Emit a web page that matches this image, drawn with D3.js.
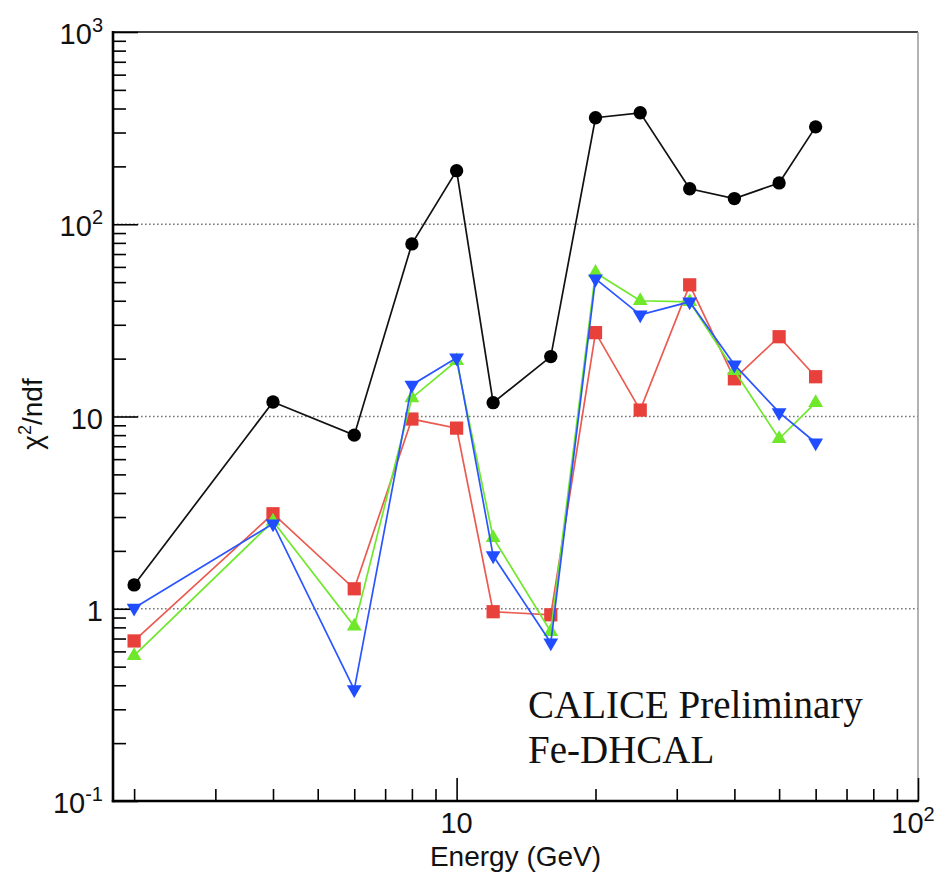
<!DOCTYPE html>
<html>
<head>
<meta charset="utf-8">
<script src="https://cdn.jsdelivr.net/npm/d3@7"></script>
<style>
  html, body { margin: 0; padding: 0; background: #fff; }
  svg { display: block; }
</style>
</head>
<body>
<svg id="chart" width="947" height="872"></svg>
<script>
// ---- data ----
const energies = [2, 4, 6, 8, 10, 12, 16, 20, 25, 32, 40, 50, 60];
const blackCircle = [1.33, 11.9, 8.0, 79, 190, 11.8, 20.5, 358, 380, 153, 136, 164, 321];
const redSquare   = [0.68, 3.12, 1.27, 9.7, 8.7, 0.965, 0.93, 27.3, 10.8, 48.4, 15.7, 26, 16.1];
const greenUp     = [0.57, 2.85, 0.81, 12.5, 19.5, 2.34, 0.76, 56, 40, 39.5, 17.3, 7.66, 11.8];
const blueDown    = [1.01, 2.77, 0.38, 14.6, 20.2, 1.89, 0.665, 52, 33.8, 39.5, 18.6, 10.5, 7.3];
const yTickValues = [0.1, 1, 10, 100, 1000];
const yTickLabels = ["10^-1", "1", "10", "10^2", "10^3"];
const xTickValues = [10, 100];
const xTickLabels = ["10", "10^2"];
const xTitle = "Energy (GeV)";
const annotation = ["CALICE Preliminary", "Fe-DHCAL"];

// ---- layout ----
const L = 113, R = 918, T = 32, B = 801;
const svg = d3.select("#chart");
const x = d3.scaleLog().domain([1.8, 100]).range([L, R]);
const y = d3.scaleLog().domain([0.1, 1000]).range([B, T]);
const sans = "'Liberation Sans', Arial, Helvetica, sans-serif";

// gridlines (dotted) at inner decades
svg.append("g").selectAll("line")
  .data([1, 10, 100]).join("line")
  .attr("x1", L).attr("x2", R)
  .attr("y1", d => y(d)).attr("y2", d => y(d))
  .attr("stroke", "#777").attr("stroke-width", 1.6)
  .attr("stroke-dasharray", "1.6,2.4");

// frame top & right
svg.append("line").attr("x1", L).attr("x2", R).attr("y1", T).attr("y2", T)
  .attr("stroke", "#444").attr("stroke-width", 2);
svg.append("line").attr("x1", R).attr("x2", R).attr("y1", T).attr("y2", B)
  .attr("stroke", "#999").attr("stroke-width", 1.5);

// minor tick values
const yMinor = [];
[0.1, 1, 10, 100].forEach(b => { for (let k = 2; k <= 9; k++) yMinor.push(b * k); });
const xMinor = [2, 3, 4, 5, 6, 7, 8, 9, 20, 30, 40, 50, 60, 70, 80, 90];

function styleAxis(g) {
  g.select(".domain").remove();
  g.selectAll(".tick line").attr("stroke", "#000").attr("stroke-width", 1.6);
  g.selectAll(".tick text").remove();
}

// y axis (ticks inward)
svg.append("g").attr("transform", `translate(${L},0)`)
  .call(d3.axisLeft(y).tickValues(yTickValues).tickSize(-25).tickFormat(""))
  .call(styleAxis);
svg.append("g").attr("transform", `translate(${L},0)`)
  .call(d3.axisLeft(y).tickValues(yMinor).tickSize(-13).tickFormat(""))
  .call(styleAxis);
// x axis (ticks inward)
svg.append("g").attr("transform", `translate(0,${B})`)
  .call(d3.axisBottom(x).tickValues(xTickValues).tickSize(-23).tickFormat(""))
  .call(styleAxis);
svg.append("g").attr("transform", `translate(0,${B})`)
  .call(d3.axisBottom(x).tickValues(xMinor).tickSize(-12).tickFormat(""))
  .call(styleAxis);

// axis lines
svg.append("line").attr("x1", L).attr("x2", L).attr("y1", T - 1).attr("y2", B + 1.2)
  .attr("stroke", "#000").attr("stroke-width", 2.6);
svg.append("line").attr("x1", L - 1.2).attr("x2", R + 0.8).attr("y1", B).attr("y2", B)
  .attr("stroke", "#000").attr("stroke-width", 2.6);

// tick labels with superscripts
function addLabel(g, label) {
  const parts = label.split("^");
  g.append("tspan").text(parts[0]);
  if (parts.length > 1) {
    g.append("tspan").attr("dy", -12).attr("font-size", 20).text(parts[1]);
  }
}
yTickValues.forEach((v, i) => {
  const t = svg.append("text")
    .attr("x", 103).attr("y", y(v) + 12)
    .attr("text-anchor", "end")
    .attr("font-family", sans).attr("font-size", 29).attr("fill", "#111");
  addLabel(t, yTickLabels[i]);
});
xTickValues.forEach((v, i) => {
  const t = svg.append("text")
    .attr("x", x(v) - (i === 1 ? 5 : 0)).attr("y", 833)
    .attr("text-anchor", "middle")
    .attr("font-family", sans).attr("font-size", 29).attr("fill", "#111");
  addLabel(t, xTickLabels[i]);
});

// axis titles
svg.append("text").attr("x", (L + R) / 2).attr("y", 866)
  .attr("text-anchor", "middle").attr("font-family", sans).attr("font-size", 28)
  .attr("fill", "#111").text(xTitle);
const yt = svg.append("text")
  .attr("transform", "translate(42,414) rotate(-90)")
  .attr("text-anchor", "middle").attr("font-family", sans).attr("font-size", 28)
  .attr("fill", "#111");
yt.append("tspan").text("\u03C7");
yt.append("tspan").attr("dy", -11).attr("font-size", 18).text("2");
yt.append("tspan").attr("dy", 11).text("/ndf");

// series
const series = [
  { vals: blackCircle, color: "#000000", line: "#111111", sym: d3.symbolCircle, size: 140, rot: 0 },
  { vals: redSquare,   color: "#e8403a", line: "#ea5a50", sym: d3.symbolSquare, size: 175, rot: 0 },
  { vals: greenUp,     color: "#6fe82c", line: "#6fe82c", sym: d3.symbolTriangle, size: 95, rot: 0 },
  { vals: blueDown,    color: "#1f4dff", line: "#2a55ff", sym: d3.symbolTriangle, size: 95, rot: 180 }
];
const lineGen = d3.line().x(d => x(d[0])).y(d => y(d[1]));
series.forEach(s => {
  const pts = energies.map((e, i) => [e, s.vals[i]]);
  svg.append("path").datum(pts).attr("d", lineGen)
    .attr("fill", "none").attr("stroke", s.line).attr("stroke-width", 1.7);
  svg.append("g").selectAll("path").data(pts).join("path")
    .attr("d", d3.symbol().type(s.sym).size(s.size))
    .attr("transform", d => `translate(${x(d[0])},${y(d[1])}) rotate(${s.rot})`)
    .attr("fill", s.color);
});

// annotation
const serif = "'Liberation Serif', 'Times New Roman', Times, serif";
annotation.forEach((t, i) => {
  svg.append("text").attr("x", 528).attr("y", 718 + i * 45)
    .attr("font-family", serif).attr("font-size", 39).attr("fill", "#111").text(t);
});
</script>
</body>
</html>
